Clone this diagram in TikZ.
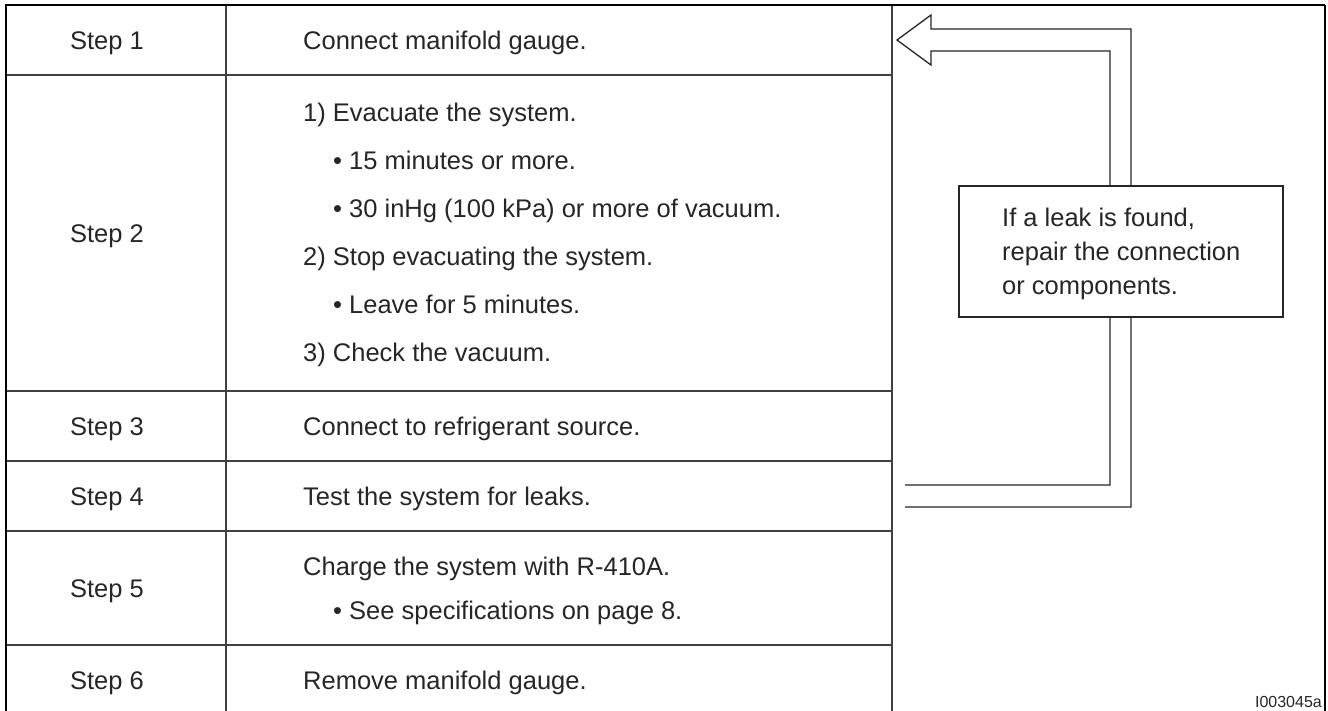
\documentclass[tikz,border=0pt]{standalone}
\usepackage{fontspec}
\setmainfont{Liberation Sans}
\begin{document}
\begin{tikzpicture}[x=1pt,y=-1pt,
  txt/.style={inner sep=0pt,text height=18pt,text depth=0pt,font=\fontsize{25.5}{30}\selectfont,text=black!85},
  lft/.style={txt,anchor=west},
  grid/.style={draw=black!75,line width=1.3pt},
  frame/.style={draw=black,line width=2.6pt},
  arr/.style={draw=black!85,line width=1.3pt,line join=miter}]
\useasboundingbox (0,0) rectangle (1328,710);
% grid
\draw[grid] (226,5) -- (226,715);
\draw[grid] (892,5) -- (892,715);
\foreach \yy in {75,391,461,531,645}{\draw[grid] (6,\yy) -- (892,\yy);}
\draw[frame] (6,715) -- (6,5) -- (1325,5);
\draw[draw=black,line width=2pt] (1325,5) -- (1325,715);
% step labels
\node[txt] (s1) at (107,40) {Step 1};
\node[txt] (s2) at (107,233) {Step 2};
\node[txt] (s3) at (107,426) {Step 3};
\node[txt] (s4) at (107,496) {Step 4};
\node[txt] (s5) at (107,588) {Step 5};
\node[txt] (s6) at (107,680) {Step 6};
% contents
\node[lft] (c1) at (303,40) {Connect manifold gauge.};
\node[lft] (c2a) at (303,112) {1) Evacuate the system.};
\node[lft] (c2b) at (333,160) {• 15 minutes or more.};
\node[lft] (c2c) at (333,208) {• 30 inHg (100 kPa) or more of vacuum.};
\node[lft] (c2d) at (303,256) {2) Stop evacuating the system.};
\node[lft] (c2e) at (333,304) {• Leave for 5 minutes.};
\node[lft] (c2f) at (303,352) {3) Check the vacuum.};
\node[lft] (c3) at (303,426) {Connect to refrigerant source.};
\node[lft] (c4) at (303,496) {Test the system for leaks.};
\node[lft] (c5a) at (303,566) {Charge the system with R-410A.};
\node[lft] (c5b) at (333,610) {• See specifications on page 8.};
\node[lft] (c6) at (303,680) {Remove manifold gauge.};
% return arrow
\coordinate (tip) at (897,40);
\draw[arr] (905,507) -- (1131,507) -- (1131,29) -- (931,29) -- (931,15) -- (tip) -- (931,65) -- (931,51) -- (1110,51) -- (1110,485) -- (905,485);
% note box
\node[draw=black!85,line width=1.3pt,fill=white,minimum width=324pt,minimum height=131pt,inner sep=0pt] (note) at (1121,251.5) {};
\node[lft] (n1) at (1002,217.5) {If a leak is found,};
\node[lft] (n2) at (1002,251.5) {repair the connection};
\node[lft] (n3) at (1002,285.5) {or components.};
\node[inner sep=0pt,anchor=east,text height=12pt,text depth=0pt,font=\fontsize{16}{18}\selectfont,text=black!85] (id) at (1322,701) {I003045a};
\end{tikzpicture}
\end{document}
